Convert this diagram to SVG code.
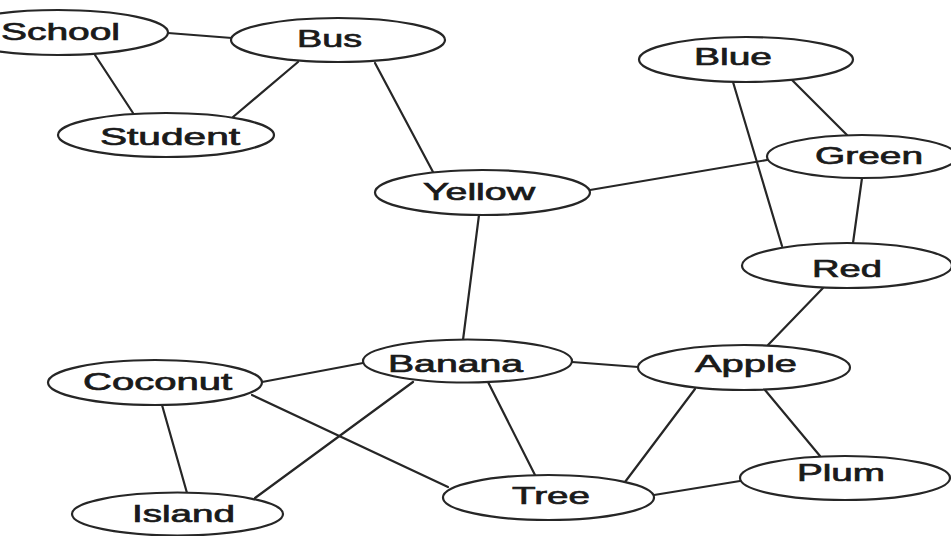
<svg xmlns="http://www.w3.org/2000/svg" width="951" height="536" viewBox="0 0 951 536">
  <style>
    .edge { stroke: #262626; stroke-width: 2.2; fill: none; stroke-linecap: round; }
    .node ellipse { fill: #ffffff; stroke: #262626; stroke-width: 2.2; }
    .node text { font-family: "Liberation Sans", Arial, Helvetica, sans-serif; font-size: 24px; fill: #1a1a1a; stroke: #1a1a1a; stroke-width: 0.7; }
  </style>
  <rect width="951" height="536" fill="#ffffff"/>

  <!-- connectors -->
  <g id="connectors">
    <line class="edge" x1="168" y1="33" x2="232" y2="38"/>
    <line class="edge" x1="95" y1="55" x2="133" y2="113"/>
    <line class="edge" x1="298" y1="62" x2="233" y2="117"/>
    <line class="edge" x1="375" y1="63" x2="433" y2="172"/>
    <line class="edge" x1="590" y1="190" x2="767" y2="160"/>
    <line class="edge" x1="792" y1="80" x2="847" y2="135"/>
    <line class="edge" x1="733" y1="82" x2="782" y2="246"/>
    <line class="edge" x1="862" y1="178" x2="853" y2="243"/>
    <line class="edge" x1="823" y1="288" x2="768" y2="345"/>
    <line class="edge" x1="479" y1="215" x2="463" y2="340"/>
    <line class="edge" x1="262" y1="382" x2="363" y2="363"/>
    <line class="edge" x1="252" y1="395" x2="448" y2="487"/>
    <line class="edge" x1="413" y1="382" x2="255" y2="498"/>
    <line class="edge" x1="162" y1="405" x2="187" y2="493"/>
    <line class="edge" x1="572" y1="362" x2="638" y2="367"/>
    <line class="edge" x1="488" y1="382" x2="535" y2="475"/>
    <line class="edge" x1="695" y1="389" x2="625" y2="482"/>
    <line class="edge" x1="765" y1="390" x2="820" y2="456"/>
    <line class="edge" x1="654" y1="495" x2="740" y2="481"/>
  </g>

  <!-- nodes -->
  <g id="school" class="node">
    <ellipse cx="58" cy="32.5" rx="110" ry="22.5"/>
    <text x="1" y="40" textLength="119" lengthAdjust="spacingAndGlyphs">School</text>
  </g>
  <g id="bus" class="node">
    <ellipse cx="338" cy="40" rx="107" ry="22"/>
    <text x="297" y="47" textLength="65" lengthAdjust="spacingAndGlyphs">Bus</text>
  </g>
  <g id="student" class="node">
    <ellipse cx="166" cy="135" rx="108" ry="22"/>
    <text x="100" y="145" textLength="140" lengthAdjust="spacingAndGlyphs">Student</text>
  </g>
  <g id="blue" class="node">
    <ellipse cx="746" cy="59.5" rx="107" ry="22.5"/>
    <text x="694" y="65" textLength="78" lengthAdjust="spacingAndGlyphs">Blue</text>
  </g>
  <g id="green" class="node">
    <ellipse cx="862" cy="156.5" rx="95" ry="21.5"/>
    <text x="815" y="164" textLength="108" lengthAdjust="spacingAndGlyphs">Green</text>
  </g>
  <g id="yellow" class="node">
    <ellipse cx="482.5" cy="192.5" rx="107.5" ry="22.5"/>
    <text x="423" y="200" textLength="112" lengthAdjust="spacingAndGlyphs">Yellow</text>
  </g>
  <g id="red" class="node">
    <ellipse cx="847" cy="265.5" rx="105" ry="22.5"/>
    <text x="812" y="277" textLength="70" lengthAdjust="spacingAndGlyphs">Red</text>
  </g>
  <g id="banana" class="node">
    <ellipse cx="467.5" cy="361" rx="104.5" ry="21.5"/>
    <text x="388" y="372" textLength="135" lengthAdjust="spacingAndGlyphs">Banana</text>
  </g>
  <g id="apple" class="node">
    <ellipse cx="744" cy="367.5" rx="106" ry="22.5"/>
    <text x="695" y="372" textLength="102" lengthAdjust="spacingAndGlyphs">Apple</text>
  </g>
  <g id="coconut" class="node">
    <ellipse cx="155" cy="382.5" rx="107" ry="22.5"/>
    <text x="83" y="390" textLength="149" lengthAdjust="spacingAndGlyphs">Coconut</text>
  </g>
  <g id="tree" class="node">
    <ellipse cx="548.5" cy="497.5" rx="105.5" ry="22.5"/>
    <text x="512" y="504" textLength="78" lengthAdjust="spacingAndGlyphs">Tree</text>
  </g>
  <g id="plum" class="node">
    <ellipse cx="845" cy="478" rx="105" ry="22"/>
    <text x="797" y="481" textLength="88" lengthAdjust="spacingAndGlyphs">Plum</text>
  </g>
  <g id="island" class="node">
    <ellipse cx="177.5" cy="514" rx="105.5" ry="21.5"/>
    <text x="132" y="522" textLength="103" lengthAdjust="spacingAndGlyphs">Island</text>
  </g>
</svg>
